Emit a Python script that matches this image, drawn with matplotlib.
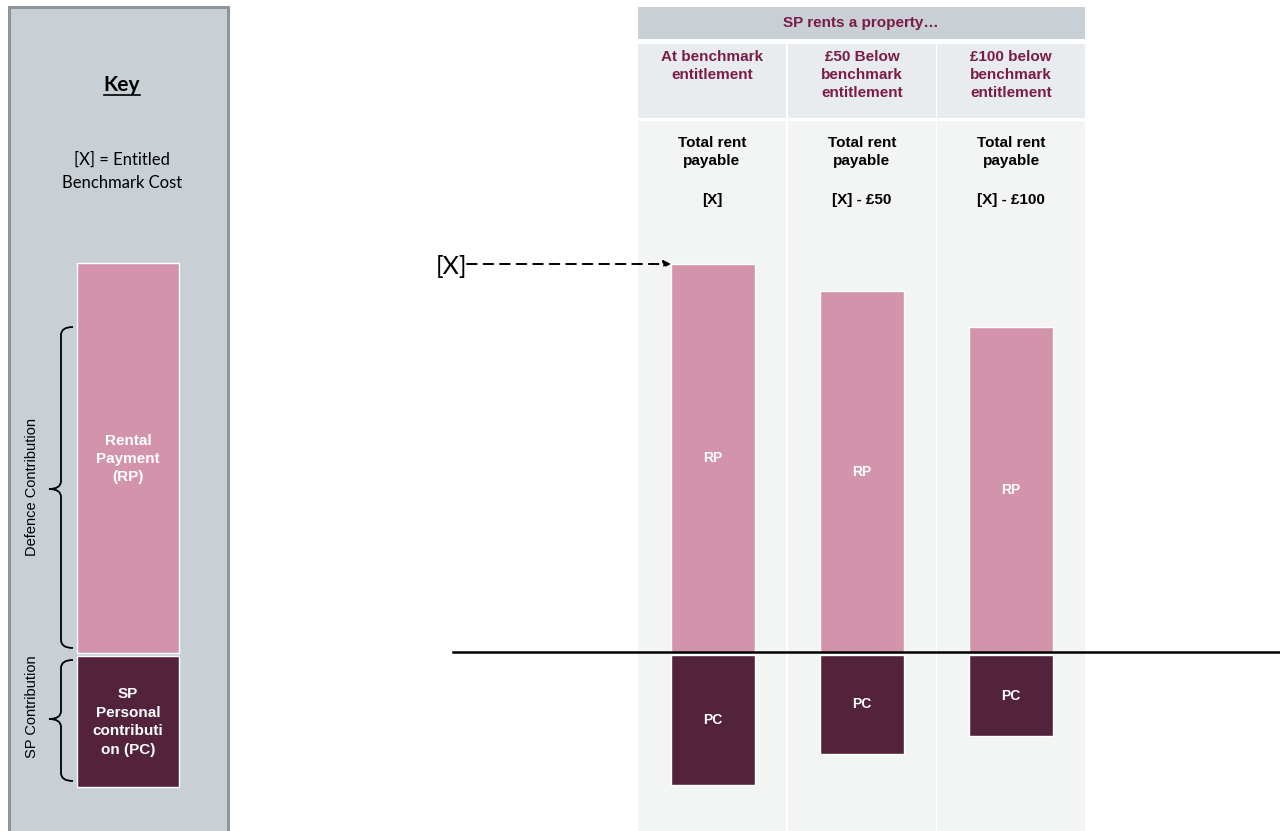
import matplotlib.pyplot as plt
from matplotlib.patches import Rectangle, PathPatch
from matplotlib.path import Path

# scenario columns
categories = ["At benchmark\nentitlement", "£50 Below\nbenchmark\nentitlement",
              "£100 below\nbenchmark\nentitlement"]
rent_labels = ["[X]", "[X] - £50", "[X] - £100"]
rp = [389, 362, 326]   # rental payment (defence contribution)
pc = [130, 99, 81]     # personal contribution
key_rp = 390
key_pc = 131

PINK = "#d393ab"
DARK = "#52233a"
PURPLE = "#7b1c48"
HEAD = "#c8cfd5"
SUB = "#e8ecee"
CELL = "#f3f5f5"

base = 653
col_x = [638, 788, 937]
col_w = 148
centers = [c + col_w / 2 for c in col_x]
bar_x = [713, 862, 1011]

fig = plt.figure(figsize=(12.8, 8.31), dpi=100)
ax = fig.add_axes([0, 0, 1, 1])
ax.set_xlim(0, 1280)
ax.set_ylim(831, 0)
ax.axis("off")

# ---- key panel ----
ax.add_patch(Rectangle((9, 7), 219, 830, facecolor="#c8d0d6", edgecolor="#8f9699", lw=2.2))
ax.text(122, 85, "Key", ha="center", va="center", fontsize=15, fontweight="bold",
        family="Lato", color="black")
ax.plot([104, 140], [95, 95], color="black", lw=1.2)
ax.text(122, 171, "[X] = Entitled\nBenchmark Cost", ha="center", va="center", fontsize=12,
        family="Lato", linespacing=1.55)

ax.bar(128, key_rp, bottom=base - key_rp, width=102, color=PINK, edgecolor="white", lw=1)
ax.bar(128, key_pc, bottom=base + 3, width=102, color=DARK, edgecolor="white", lw=1)
ax.text(128, 459, "Rental\nPayment\n(RP)", ha="center", va="center", color="white",
        fontsize=11, fontweight="bold", family="Liberation Sans", linespacing=1.4)
ax.text(128, 722, "SP\nPersonal\ncontributi\non (PC)", ha="center", va="center", color="white",
        fontsize=11, fontweight="bold", family="Liberation Sans", linespacing=1.4)


def brace(x, y0, y1, ym, w=12, r=8):
    verts = [(x + w, y0), (x, y0), (x, y0 + r),
             (x, ym - r), (x, ym), (x - w, ym),
             (x, ym), (x, ym + r),
             (x, y1 - r), (x, y1), (x + w, y1)]
    codes = [Path.MOVETO, Path.CURVE3, Path.CURVE3,
             Path.LINETO, Path.CURVE3, Path.CURVE3,
             Path.CURVE3, Path.CURVE3,
             Path.LINETO, Path.CURVE3, Path.CURVE3]
    ax.add_patch(PathPatch(Path(verts, codes), fill=False, lw=1.3, edgecolor="black"))


brace(61, 327, 648, 489)
brace(61, 660, 781, 719)
ax.text(32, 487, "Defence Contribution", rotation=90, ha="center", va="center",
        fontsize=10.5, family="Liberation Sans")
ax.text(32, 707, "SP Contribution", rotation=90, ha="center", va="center",
        fontsize=10.5, family="Liberation Sans")

# ---- scenario table ----
ax.add_patch(Rectangle((638, 7), 447, 32, facecolor=HEAD, edgecolor="none"))
ax.text(861, 23, "SP rents a property…", ha="center", va="center", color=PURPLE,
        fontsize=11, fontweight="bold", family="Liberation Sans")
for cx, c, cat, rl in zip(col_x, centers, categories, rent_labels):
    ax.add_patch(Rectangle((cx, 44), col_w, 74, facecolor=SUB, edgecolor="none"))
    ax.add_patch(Rectangle((cx, 121), col_w, 720, facecolor=CELL, edgecolor="none"))
    ax.text(c, 50, cat, ha="center", va="top", color=PURPLE, fontsize=11,
            fontweight="bold", family="Liberation Sans", linespacing=1.38)
    ax.text(c, 136, "Total rent\npayable", ha="center", va="top", color="black", fontsize=11,
            fontweight="bold", family="Liberation Sans", linespacing=1.38)
    ax.text(c, 200, rl, ha="center", va="center", color="black", fontsize=11,
            fontweight="bold", family="Liberation Sans")

ax.bar(bar_x, rp, bottom=[base - v for v in rp], width=84, color=PINK, edgecolor="white", lw=1)
ax.bar(bar_x, pc, bottom=base + 2, width=84, color=DARK, edgecolor="white", lw=1)
for bx, v, p in zip(bar_x, rp, pc):
    ax.text(bx, base - v / 2, "RP", ha="center", va="center", color="white", fontsize=10,
            fontweight="bold", family="Liberation Sans")
    ax.text(bx, base + 2 + p / 2, "PC", ha="center", va="center", color="white", fontsize=10,
            fontweight="bold", family="Liberation Sans")

# baseline and [X] pointer
ax.plot([453, 1280], [base - 1, base - 1], color="black", lw=1.8, zorder=5)
ax.text(451, 266, "[X]", ha="center", va="center", fontsize=18, family="Lato")
ax.annotate("", xy=(bar_x[0] - 42, base - rp[0]), xytext=(467, base - rp[0]),
            arrowprops=dict(arrowstyle="-|>", linestyle=(0, (5, 3.5)), color="black", lw=1.4,
                            mutation_scale=10, shrinkA=0, shrinkB=0))

fig.savefig("out.png", dpi=100)
